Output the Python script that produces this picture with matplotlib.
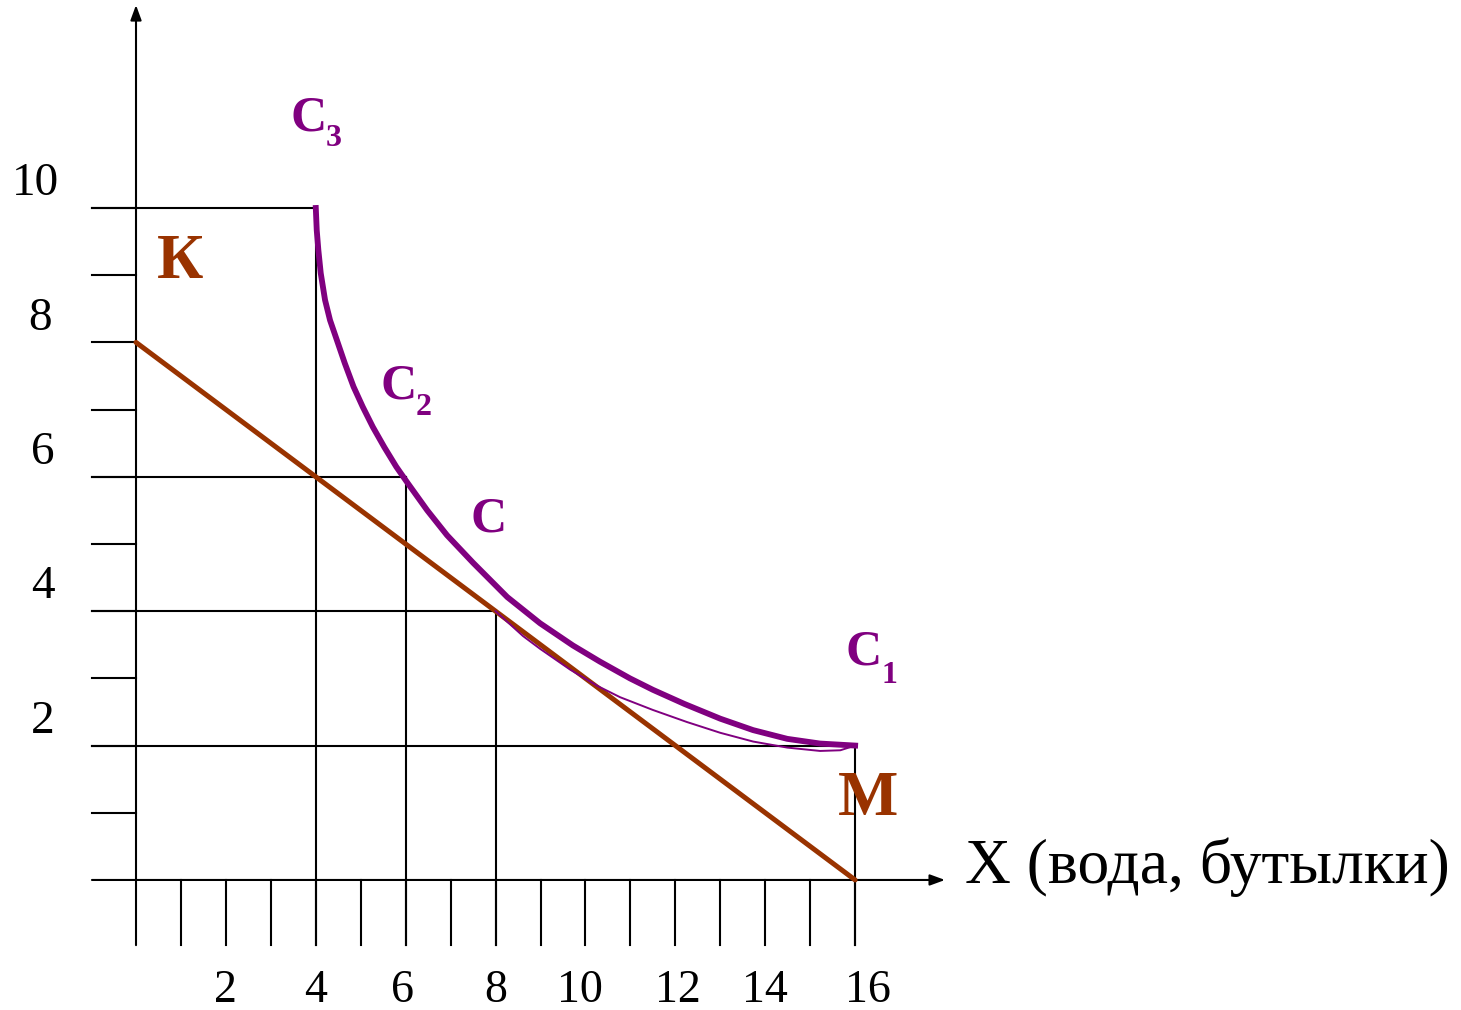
import matplotlib.pyplot as plt

plt.rcParams['font.family'] = ['Liberation Serif', 'DejaVu Serif']

PURPLE = '#800080'
BROWN = '#993300'

# reference bundles: (x, y) points marked on the axes
level_x = [4, 6, 8, 16]
level_y = [10, 6, 4, 2]

x_ticks = list(range(1, 17))
y_ticks = list(range(1, 11))
x_tick_labels = [2, 4, 6, 8, 10, 12, 14, 16]
y_tick_labels = [2, 4, 6, 8, 10]

# budget line K-M
budget_x = [0, 16]
budget_y = [8, 0]

# indifference curve (thick)
curve_x = [4.000, 4.021, 4.057, 4.110, 4.206, 4.317, 4.466, 4.645, 4.840, 5.045,
           5.270, 5.525, 5.790, 6.040, 6.480, 6.920, 7.500, 8.260, 8.990, 9.720,
           10.320, 10.990, 11.500, 12.200, 13.000, 13.730, 14.490, 15.220, 16.000]
curve_y = [10.00, 9.67, 9.375, 9.03, 8.63, 8.33, 8.04, 7.69, 7.34, 7.04,
           6.74, 6.44, 6.15, 5.91, 5.50, 5.13, 4.72, 4.21, 3.82, 3.49,
           3.25, 3.00, 2.83, 2.62, 2.40, 2.23, 2.10, 2.03, 2.00]

# lower curve through C (thin)
thin_x = [8.00, 8.61, 8.99, 9.66, 10.26, 10.77, 11.50, 12.26, 13.00, 13.73,
          14.49, 15.22, 15.67, 16.00]
thin_y = [4.00, 3.63, 3.44, 3.13, 2.89, 2.72, 2.53, 2.35, 2.19, 2.06,
          1.97, 1.92, 1.93, 2.00]

fig = plt.figure(figsize=(14.61, 10.10), dpi=100)
ax = fig.add_axes([0, 0, 1, 1])
ax.set_xlim(-3.026, 29.48)
ax.set_ylim(-1.935, 13.095)
ax.axis('off')

lw_axis = 1.5
left = -0.98
bottom = -0.97

# axes with arrows
arrow = dict(arrowstyle='-|>,head_length=0.6,head_width=0.22', color='black',
             lw=lw_axis, mutation_scale=15, shrinkA=0, shrinkB=0)
ax.annotate('', xy=(0, 13.02), xytext=(0, bottom), arrowprops=arrow)
ax.annotate('', xy=(18.0, 0), xytext=(left, 0), arrowprops=arrow)

# tick strokes
for t in y_ticks:
    ax.plot([left, 0], [t, t], color='black', lw=lw_axis)
for t in x_ticks:
    ax.plot([t, t], [0, bottom], color='black', lw=lw_axis)

# projection lines of marked bundles
for lx, ly in zip(level_x, level_y):
    ax.plot([left, lx], [ly, ly], color='black', lw=lw_axis)
    ax.plot([lx, lx], [ly, bottom], color='black', lw=lw_axis)

y_label_x = {2: -2.07, 4: -2.07, 6: -2.07, 8: -2.14, 10: -2.23}
for v in y_tick_labels:
    ax.text(y_label_x[v], v + 0.19, str(v), fontsize=34, ha='center', va='baseline')
x_label_shift = {6: -0.06, 10: -0.12, 12: 0.06, 16: 0.29}
for v in x_tick_labels:
    ax.text(v + x_label_shift.get(v, 0.0), -1.815, str(v), fontsize=33,
            ha='center', va='baseline')

ax.plot(budget_x, budget_y, color=BROWN, lw=3.6, solid_capstyle='round', zorder=3)
ax.plot(thin_x, thin_y, color=PURPLE, lw=1.4, solid_joinstyle='round', zorder=4)
ax.plot(curve_x, curve_y, color=PURPLE, lw=4.2, solid_joinstyle='round', zorder=5)

# curve labels
bold = dict(fontweight='bold', va='baseline', ha='left')
ax.text(3.43, 11.16, 'С', color=PURPLE, fontsize=36, **bold)
ax.text(4.22, 10.92, '3', color=PURPLE, fontsize=23, **bold)
ax.text(5.43, 7.17, 'С', color=PURPLE, fontsize=36, **bold)
ax.text(6.22, 6.92, '2', color=PURPLE, fontsize=23, **bold)
ax.text(7.44, 5.18, 'С', color=PURPLE, fontsize=36, **bold)
ax.text(15.78, 3.20, 'С', color=PURPLE, fontsize=36, **bold)
ax.text(16.58, 2.93, '1', color=PURPLE, fontsize=23, **bold)
ax.text(0.47, 8.96, 'К', color=BROWN, fontsize=46, **bold)
ax.text(15.62, 0.97, 'М', color=BROWN, fontsize=46, **bold)

# axis caption, sized to span the same width as in the layout
cap = ax.text(18.45, -0.045, 'X (вода, бутылки)', fontsize=54, ha='left', va='baseline')
renderer = fig.canvas.get_renderer()
width_px = cap.get_window_extent(renderer).width
cap.set_fontsize(54 * 485 / width_px)

fig.savefig('out.png', dpi=100)
